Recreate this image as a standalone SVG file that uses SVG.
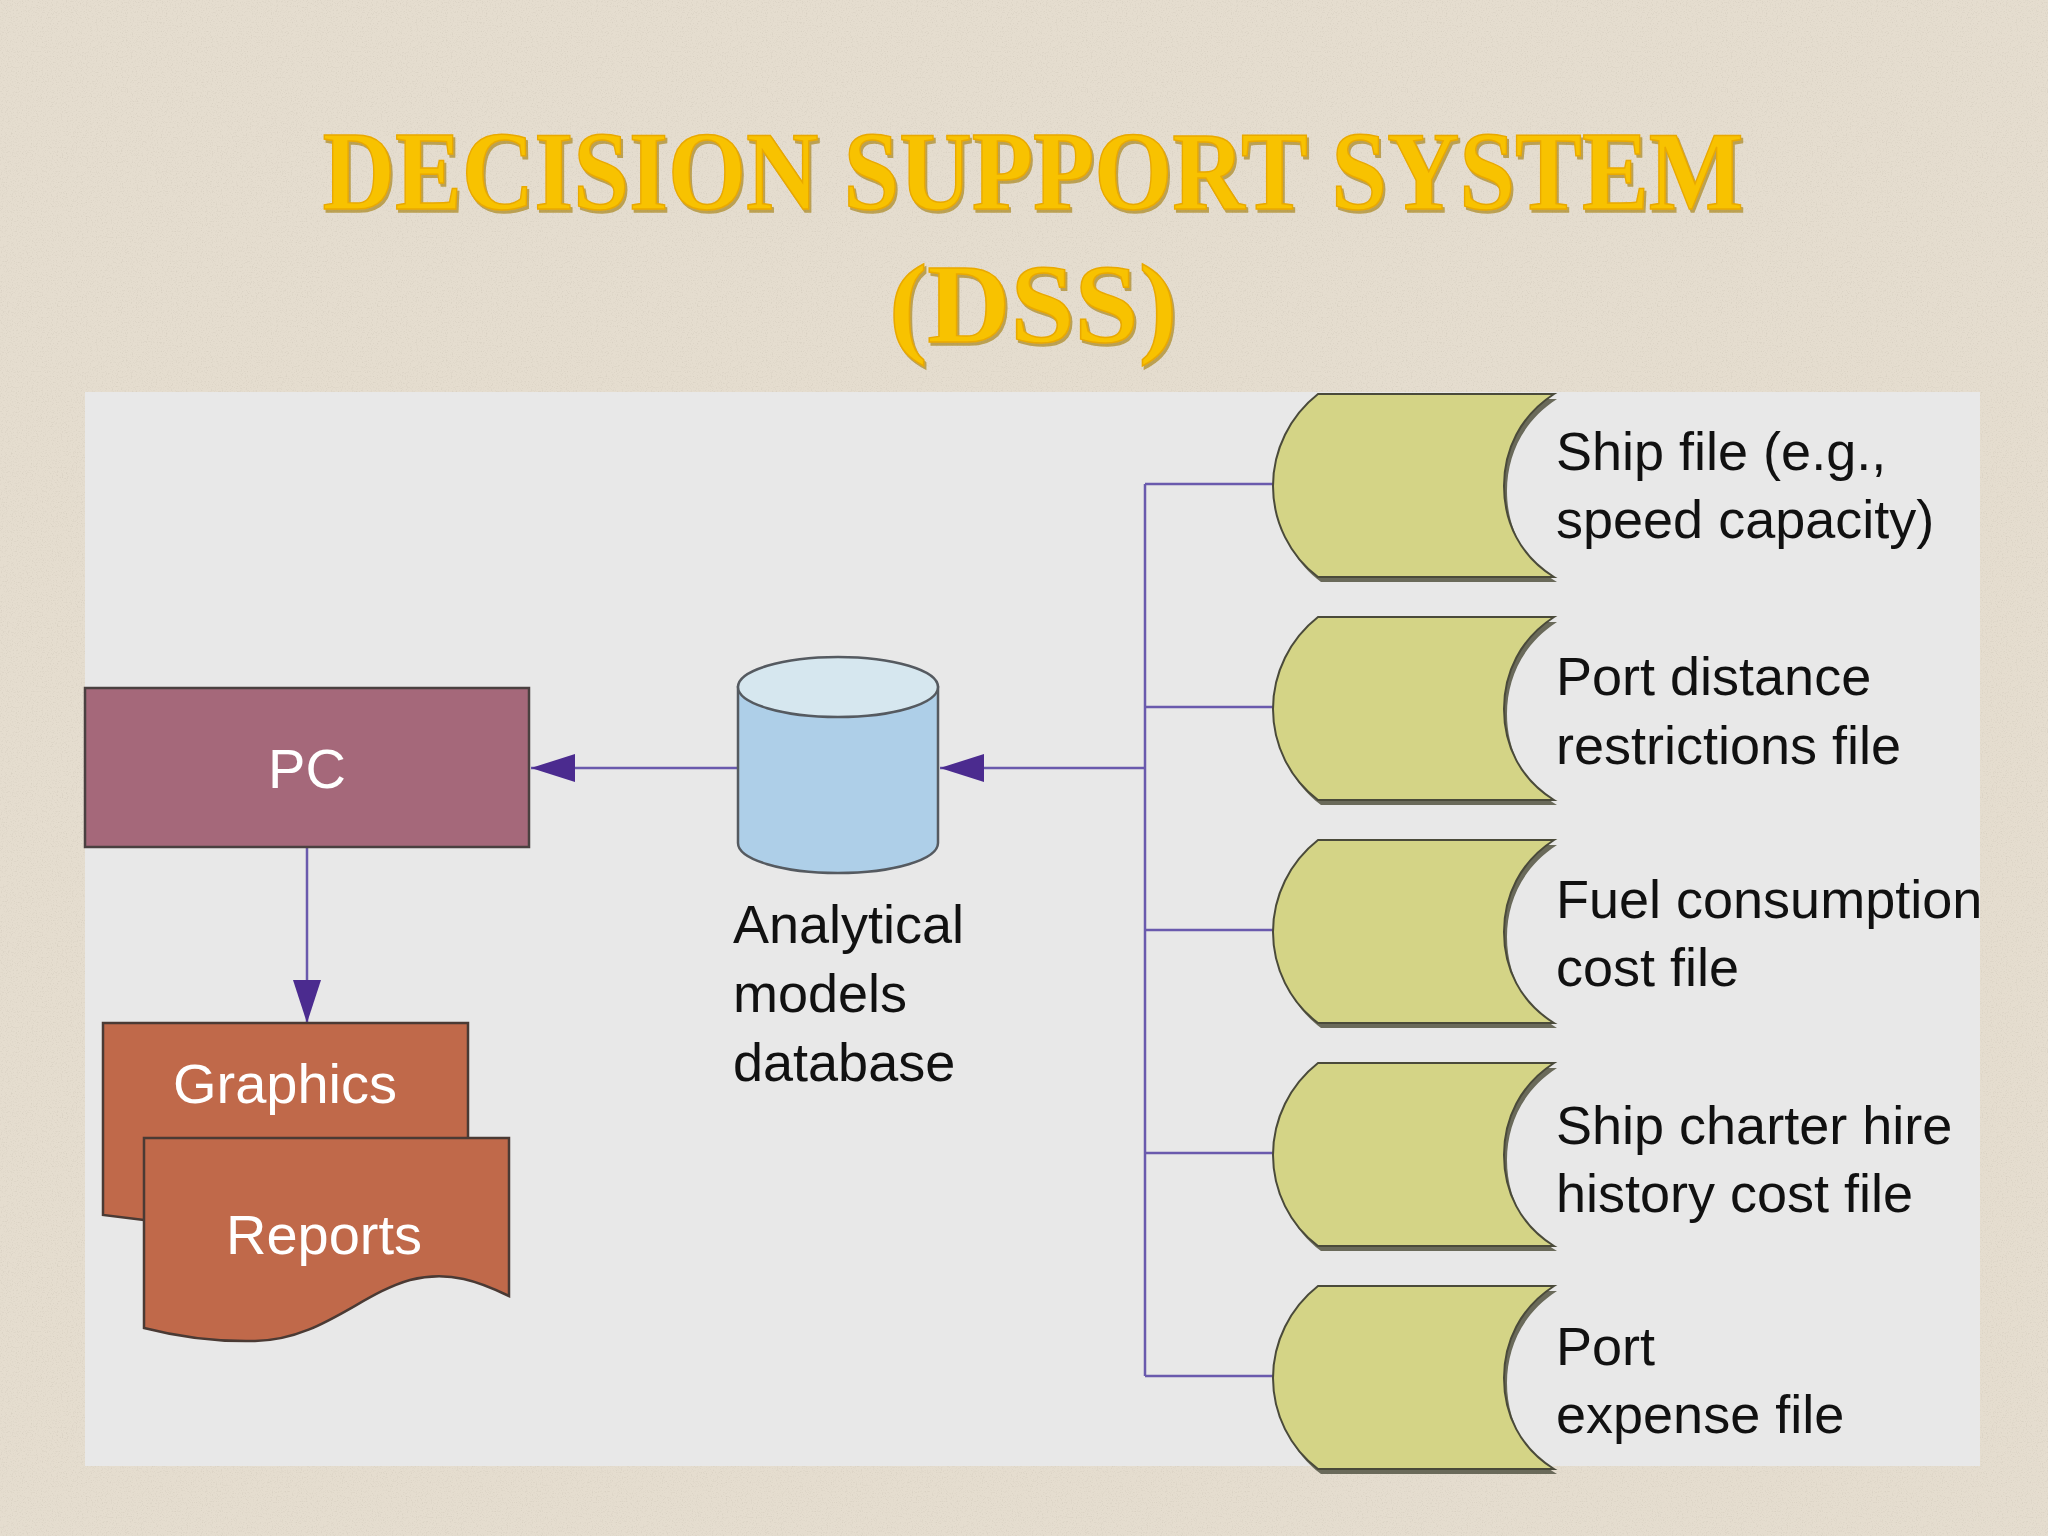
<svg xmlns="http://www.w3.org/2000/svg" width="2048" height="1536" viewBox="0 0 2048 1536">
<style>
.title{font-family:"Liberation Serif","DejaVu Serif",serif;font-weight:bold;fill:#f8c200;stroke:#e9a900;stroke-width:1.5}
.lbl{font-family:"Liberation Sans",Arial,sans-serif;font-size:54px;fill:#111}
.wlbl{font-family:"Liberation Sans",Arial,sans-serif;font-size:56px;fill:#fff;text-anchor:middle}
.conn{stroke:#6a5aad;stroke-width:2.5;fill:none}
.file{fill:#d4d486;stroke:#4a4a3a;stroke-width:2}
.fileshadow{fill:#6a6a5a}
</style>
<defs>
<marker id="arr" markerWidth="12" markerHeight="10" refX="12" refY="5" orient="auto" markerUnits="userSpaceOnUse" viewBox="0 0 12 10">
<path d="M0,0 L12,5 L0,10 Z" fill="#4b2b8f"/>
</marker>
<path id="fileShape" d="M45,0 H281 C247,22 231,56 231,92 C231,128 247,162 281,183 H45 C17,162 0,128 0,92 C0,56 17,22 45,0 Z"/>
<filter id="noise" x="0" y="0" width="100%" height="100%">
<feTurbulence type="fractalNoise" baseFrequency="0.8" numOctaves="2" seed="4" result="t"/>
<feColorMatrix in="t" type="matrix" values="0 0 0 0 0.55  0 0 0 0 0.5  0 0 0 0 0.42  0 0 0 -3 1.45"/>
</filter>
<filter id="tshadow" x="-5%" y="-20%" width="110%" height="140%">
<feDropShadow dx="2" dy="3" stdDeviation="0.5" flood-color="#a07800" flood-opacity="0.6"/>
</filter>
</defs>

<rect x="0" y="0" width="2048" height="1536" fill="#e5ddcf"/>
<rect x="0" y="0" width="2048" height="1536" filter="url(#noise)" opacity="0.35"/>

<g id="title" filter="url(#tshadow)">
<text class="title" x="1033" y="209" font-size="112" text-anchor="middle" textLength="1421" lengthAdjust="spacingAndGlyphs">DECISION SUPPORT SYSTEM</text>
<text class="title" x="1033" y="342" font-size="112" text-anchor="middle" textLength="288" lengthAdjust="spacingAndGlyphs">(DSS)</text>
</g>

<rect id="panel" x="85" y="392" width="1895" height="1074" fill="#e8e8e8"/>

<g id="connectors">
<line class="conn" x1="1145" y1="484" x2="1145" y2="1376"/>
<line class="conn" x1="1145" y1="484" x2="1276" y2="484"/>
<line class="conn" x1="1145" y1="707" x2="1276" y2="707"/>
<line class="conn" x1="1145" y1="930" x2="1276" y2="930"/>
<line class="conn" x1="1145" y1="1153" x2="1276" y2="1153"/>
<line class="conn" x1="1145" y1="1376" x2="1276" y2="1376"/>
<line class="conn" x1="1145" y1="768" x2="940" y2="768"/>
<polygon points="940,768 984,754 984,782" fill="#4b2b8f"/>
<line class="conn" x1="738" y1="768" x2="531" y2="768"/>
<polygon points="531,768 575,754 575,782" fill="#4b2b8f"/>
<line class="conn" x1="307" y1="848" x2="307" y2="1023"/>
<polygon points="307,1023 293,980 321,980" fill="#4b2b8f"/>
</g>

<g id="pc">
<rect x="85" y="688" width="444" height="159" fill="#a5687a" stroke="#4a4040" stroke-width="2.5"/>
<text class="wlbl" x="307" y="788">PC</text>
</g>

<g id="graphics">
<path d="M103,1023 H468 V1220 L144,1220 L103,1215 Z" fill="#c0694a" stroke="#4a3a34" stroke-width="2.5"/>
<text class="wlbl" x="285" y="1103">Graphics</text>
</g>

<g id="reports">
<path d="M144,1138 H509 V1296 C480,1282 450,1270 410,1280 C360,1294 320,1340 255,1341 C210,1342 175,1336 144,1328 Z" fill="#c0694a" stroke="#4a3a34" stroke-width="2.5"/>
<text class="wlbl" x="324" y="1254">Reports</text>
</g>

<g id="database">
<path d="M738,687 V843 A100,30 0 0 0 938,843 V687 Z" fill="#aecfe8" stroke="#555a60" stroke-width="2.5"/>
<ellipse cx="838" cy="687" rx="100" ry="30" fill="#d6e7ef" stroke="#555a60" stroke-width="2.5"/>
<text class="lbl" x="733" y="943">Analytical</text>
<text class="lbl" x="733" y="1012">models</text>
<text class="lbl" x="733" y="1081">database</text>
</g>

<g id="file1" transform="translate(1273,394)">
<use href="#fileShape" class="fileshadow" transform="translate(3,5)"/>
<use href="#fileShape" class="file"/>
<text class="lbl" x="283" y="76">Ship file (e.g.,</text>
<text class="lbl" x="283" y="144">speed capacity)</text>
</g>
<g id="file2" transform="translate(1273,617)">
<use href="#fileShape" class="fileshadow" transform="translate(3,5)"/>
<use href="#fileShape" class="file"/>
<text class="lbl" x="283" y="78">Port distance</text>
<text class="lbl" x="283" y="147">restrictions file</text>
</g>
<g id="file3" transform="translate(1273,840)">
<use href="#fileShape" class="fileshadow" transform="translate(3,5)"/>
<use href="#fileShape" class="file"/>
<text class="lbl" x="283" y="78">Fuel consumption</text>
<text class="lbl" x="283" y="146">cost file</text>
</g>
<g id="file4" transform="translate(1273,1063)">
<use href="#fileShape" class="fileshadow" transform="translate(3,5)"/>
<use href="#fileShape" class="file"/>
<text class="lbl" x="283" y="81">Ship charter hire</text>
<text class="lbl" x="283" y="149">history cost file</text>
</g>
<g id="file5" transform="translate(1273,1286)">
<use href="#fileShape" class="fileshadow" transform="translate(3,5)"/>
<use href="#fileShape" class="file"/>
<text class="lbl" x="283" y="79">Port</text>
<text class="lbl" x="283" y="147">expense file</text>
</g>
</svg>
